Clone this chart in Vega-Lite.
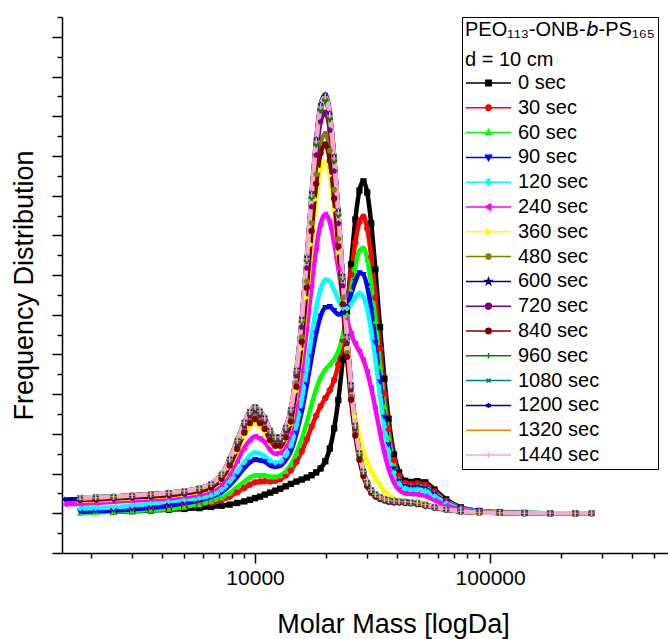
{
  "$schema": "https://vega.github.io/schema/vega-lite/v6.json",
  "width": 606,
  "height": 536,
  "autosize": {"type": "none"},
  "padding": {"left": 62, "top": 17, "right": 0, "bottom": 86},
  "background": "white",
  "config": {
    "font": "Liberation Sans",
    "view": {"stroke": null},
    "axis": {"grid": false, "domainColor": "#000000", "tickColor": "#000000", "labelColor": "#000000", "titleColor": "#000000", "titleFontWeight": "normal", "domainWidth": 1.5, "tickWidth": 1.5}
  },
  "data": {"values": [
{"t":0,"m":2500,"f":0.004},{"t":0,"m":3000,"f":0.005},{"t":0,"m":3600,"f":0.007},{"t":0,"m":4300,"f":0.009},{"t":0,"m":5000,"f":0.011},{"t":0,"m":5800,"f":0.013},{"t":0,"m":6500,"f":0.016},{"t":0,"m":7200,"f":0.019},{"t":0,"m":7800,"f":0.022},{"t":0,"m":8400,"f":0.026},{"t":0,"m":9000,"f":0.03},{"t":0,"m":9500,"f":0.034},{"t":0,"m":10000,"f":0.038},{"t":0,"m":10500,"f":0.042},{"t":0,"m":11000,"f":0.047},{"t":0,"m":11600,"f":0.052},{"t":0,"m":12200,"f":0.057},{"t":0,"m":12800,"f":0.062},{"t":0,"m":13500,"f":0.068},{"t":0,"m":14200,"f":0.074},{"t":0,"m":15000,"f":0.08},{"t":0,"m":15800,"f":0.085},{"t":0,"m":16600,"f":0.09},{"t":0,"m":17400,"f":0.096},{"t":0,"m":18200,"f":0.103},{"t":0,"m":19000,"f":0.113},{"t":0,"m":19900,"f":0.131},{"t":0,"m":20800,"f":0.163},{"t":0,"m":21700,"f":0.214},{"t":0,"m":22600,"f":0.285},{"t":0,"m":23600,"f":0.387},{"t":0,"m":24600,"f":0.508},{"t":0,"m":25600,"f":0.627},{"t":0,"m":26700,"f":0.74},{"t":0,"m":27800,"f":0.813},{"t":0,"m":28900,"f":0.836},{"t":0,"m":30000,"f":0.808},{"t":0,"m":31200,"f":0.73},{"t":0,"m":32500,"f":0.614},{"t":0,"m":34000,"f":0.469},{"t":0,"m":35500,"f":0.339},{"t":0,"m":37000,"f":0.238},{"t":0,"m":39000,"f":0.148},{"t":0,"m":41000,"f":0.103},{"t":0,"m":43500,"f":0.082},{"t":0,"m":46000,"f":0.079},{"t":0,"m":49000,"f":0.081},{"t":0,"m":53000,"f":0.078},{"t":0,"m":58000,"f":0.06},{"t":0,"m":65000,"f":0.035},{"t":0,"m":75000,"f":0.015},{"t":0,"m":90000,"f":0.006},{"t":0,"m":110000,"f":0.003},{"t":0,"m":140000,"f":0.001},{"t":0,"m":180000,"f":0},{"t":0,"m":230000,"f":0},
{"t":30,"m":2500,"f":0.01},{"t":30,"m":3000,"f":0.012},{"t":30,"m":3600,"f":0.014},{"t":30,"m":4300,"f":0.017},{"t":30,"m":5000,"f":0.019},{"t":30,"m":5800,"f":0.022},{"t":30,"m":6500,"f":0.026},{"t":30,"m":7200,"f":0.033},{"t":30,"m":7800,"f":0.042},{"t":30,"m":8400,"f":0.053},{"t":30,"m":9000,"f":0.064},{"t":30,"m":9500,"f":0.072},{"t":30,"m":10000,"f":0.078},{"t":30,"m":10500,"f":0.08},{"t":30,"m":11000,"f":0.081},{"t":30,"m":11600,"f":0.08},{"t":30,"m":12200,"f":0.082},{"t":30,"m":12800,"f":0.086},{"t":30,"m":13500,"f":0.095},{"t":30,"m":14200,"f":0.108},{"t":30,"m":15000,"f":0.13},{"t":30,"m":15800,"f":0.156},{"t":30,"m":16600,"f":0.186},{"t":30,"m":17400,"f":0.218},{"t":30,"m":18200,"f":0.246},{"t":30,"m":19000,"f":0.27},{"t":30,"m":19900,"f":0.29},{"t":30,"m":20800,"f":0.31},{"t":30,"m":21700,"f":0.336},{"t":30,"m":22600,"f":0.375},{"t":30,"m":23600,"f":0.437},{"t":30,"m":24600,"f":0.517},{"t":30,"m":25600,"f":0.601},{"t":30,"m":26700,"f":0.682},{"t":30,"m":27800,"f":0.734},{"t":30,"m":28900,"f":0.747},{"t":30,"m":30000,"f":0.717},{"t":30,"m":31200,"f":0.646},{"t":30,"m":32500,"f":0.543},{"t":30,"m":34000,"f":0.416},{"t":30,"m":35500,"f":0.302},{"t":30,"m":37000,"f":0.213},{"t":30,"m":39000,"f":0.134},{"t":30,"m":41000,"f":0.095},{"t":30,"m":43500,"f":0.076},{"t":30,"m":46000,"f":0.074},{"t":30,"m":49000,"f":0.075},{"t":30,"m":53000,"f":0.072},{"t":30,"m":58000,"f":0.055},{"t":30,"m":65000,"f":0.032},{"t":30,"m":75000,"f":0.014},{"t":30,"m":90000,"f":0.006},{"t":30,"m":110000,"f":0.003},{"t":30,"m":140000,"f":0.001},{"t":30,"m":180000,"f":0},{"t":30,"m":230000,"f":0},{"t":30,"m":270000,"f":0},
{"t":60,"m":1800,"f":0},{"t":60,"m":2100,"f":0.002},{"t":60,"m":2500,"f":0.004},{"t":60,"m":3000,"f":0.006},{"t":60,"m":3600,"f":0.008},{"t":60,"m":4300,"f":0.011},{"t":60,"m":5000,"f":0.016},{"t":60,"m":5800,"f":0.023},{"t":60,"m":6500,"f":0.031},{"t":60,"m":7200,"f":0.039},{"t":60,"m":7800,"f":0.051},{"t":60,"m":8400,"f":0.066},{"t":60,"m":9000,"f":0.08},{"t":60,"m":9500,"f":0.09},{"t":60,"m":10000,"f":0.096},{"t":60,"m":10500,"f":0.096},{"t":60,"m":11000,"f":0.096},{"t":60,"m":11600,"f":0.092},{"t":60,"m":12200,"f":0.092},{"t":60,"m":12800,"f":0.095},{"t":60,"m":13500,"f":0.106},{"t":60,"m":14200,"f":0.122},{"t":60,"m":15000,"f":0.151},{"t":60,"m":15800,"f":0.187},{"t":60,"m":16600,"f":0.229},{"t":60,"m":17400,"f":0.274},{"t":60,"m":18200,"f":0.313},{"t":60,"m":19000,"f":0.342},{"t":60,"m":19900,"f":0.362},{"t":60,"m":20800,"f":0.375},{"t":60,"m":21700,"f":0.388},{"t":60,"m":22600,"f":0.408},{"t":60,"m":23600,"f":0.446},{"t":60,"m":24600,"f":0.501},{"t":60,"m":25600,"f":0.562},{"t":60,"m":26700,"f":0.623},{"t":60,"m":27800,"f":0.662},{"t":60,"m":28900,"f":0.668},{"t":60,"m":30000,"f":0.64},{"t":60,"m":31200,"f":0.575},{"t":60,"m":32500,"f":0.484},{"t":60,"m":34000,"f":0.37},{"t":60,"m":35500,"f":0.269},{"t":60,"m":37000,"f":0.191},{"t":60,"m":39000,"f":0.121},{"t":60,"m":41000,"f":0.087},{"t":60,"m":43500,"f":0.07},{"t":60,"m":46000,"f":0.068},{"t":60,"m":49000,"f":0.069},{"t":60,"m":53000,"f":0.065},{"t":60,"m":58000,"f":0.05},{"t":60,"m":65000,"f":0.029},{"t":60,"m":75000,"f":0.013},{"t":60,"m":90000,"f":0.005},{"t":60,"m":110000,"f":0.002},{"t":60,"m":140000,"f":0.001},{"t":60,"m":180000,"f":0},{"t":60,"m":230000,"f":0},{"t":60,"m":270000,"f":0},
{"t":90,"m":1800,"f":0.003},{"t":90,"m":2100,"f":0.005},{"t":90,"m":2500,"f":0.007},{"t":90,"m":3000,"f":0.01},{"t":90,"m":3600,"f":0.014},{"t":90,"m":4300,"f":0.019},{"t":90,"m":5000,"f":0.025},{"t":90,"m":5800,"f":0.032},{"t":90,"m":6500,"f":0.041},{"t":90,"m":7200,"f":0.053},{"t":90,"m":7800,"f":0.07},{"t":90,"m":8400,"f":0.092},{"t":90,"m":9000,"f":0.114},{"t":90,"m":9500,"f":0.128},{"t":90,"m":10000,"f":0.135},{"t":90,"m":10500,"f":0.133},{"t":90,"m":11000,"f":0.13},{"t":90,"m":11600,"f":0.12},{"t":90,"m":12200,"f":0.117},{"t":90,"m":12800,"f":0.12},{"t":90,"m":13500,"f":0.134},{"t":90,"m":14200,"f":0.156},{"t":90,"m":15000,"f":0.201},{"t":90,"m":15800,"f":0.257},{"t":90,"m":16600,"f":0.323},{"t":90,"m":17400,"f":0.393},{"t":90,"m":18200,"f":0.453},{"t":90,"m":19000,"f":0.496},{"t":90,"m":19900,"f":0.518},{"t":90,"m":20800,"f":0.52},{"t":90,"m":21700,"f":0.51},{"t":90,"m":22600,"f":0.501},{"t":90,"m":23600,"f":0.503},{"t":90,"m":24600,"f":0.521},{"t":90,"m":25600,"f":0.551},{"t":90,"m":26700,"f":0.584},{"t":90,"m":27800,"f":0.605},{"t":90,"m":28900,"f":0.601},{"t":90,"m":30000,"f":0.571},{"t":90,"m":31200,"f":0.511},{"t":90,"m":32500,"f":0.429},{"t":90,"m":34000,"f":0.33},{"t":90,"m":35500,"f":0.241},{"t":90,"m":37000,"f":0.172},{"t":90,"m":39000,"f":0.111},{"t":90,"m":41000,"f":0.081},{"t":90,"m":43500,"f":0.067},{"t":90,"m":46000,"f":0.064},{"t":90,"m":49000,"f":0.065},{"t":90,"m":53000,"f":0.061},{"t":90,"m":58000,"f":0.047},{"t":90,"m":65000,"f":0.027},{"t":90,"m":75000,"f":0.012},{"t":90,"m":90000,"f":0.005},{"t":90,"m":110000,"f":0.002},{"t":90,"m":140000,"f":0.001},{"t":90,"m":180000,"f":0},{"t":90,"m":230000,"f":0},{"t":90,"m":270000,"f":0},
{"t":120,"m":1800,"f":0.012},{"t":120,"m":2100,"f":0.013},{"t":120,"m":2500,"f":0.015},{"t":120,"m":3000,"f":0.019},{"t":120,"m":3600,"f":0.024},{"t":120,"m":4300,"f":0.03},{"t":120,"m":5000,"f":0.034},{"t":120,"m":5800,"f":0.038},{"t":120,"m":6500,"f":0.045},{"t":120,"m":7200,"f":0.059},{"t":120,"m":7800,"f":0.079},{"t":120,"m":8400,"f":0.104},{"t":120,"m":9000,"f":0.129},{"t":120,"m":9500,"f":0.145},{"t":120,"m":10000,"f":0.153},{"t":120,"m":10500,"f":0.15},{"t":120,"m":11000,"f":0.144},{"t":120,"m":11600,"f":0.132},{"t":120,"m":12200,"f":0.127},{"t":120,"m":12800,"f":0.13},{"t":120,"m":13500,"f":0.145},{"t":120,"m":14200,"f":0.171},{"t":120,"m":15000,"f":0.222},{"t":120,"m":15800,"f":0.287},{"t":120,"m":16600,"f":0.365},{"t":120,"m":17400,"f":0.447},{"t":120,"m":18200,"f":0.517},{"t":120,"m":19000,"f":0.565},{"t":120,"m":19900,"f":0.588},{"t":120,"m":20800,"f":0.584},{"t":120,"m":21700,"f":0.562},{"t":120,"m":22600,"f":0.537},{"t":120,"m":23600,"f":0.518},{"t":120,"m":24600,"f":0.516},{"t":120,"m":25600,"f":0.527},{"t":120,"m":26700,"f":0.544},{"t":120,"m":27800,"f":0.554},{"t":120,"m":28900,"f":0.545},{"t":120,"m":30000,"f":0.514},{"t":120,"m":31200,"f":0.459},{"t":120,"m":32500,"f":0.386},{"t":120,"m":34000,"f":0.297},{"t":120,"m":35500,"f":0.218},{"t":120,"m":37000,"f":0.156},{"t":120,"m":39000,"f":0.102},{"t":120,"m":41000,"f":0.075},{"t":120,"m":43500,"f":0.063},{"t":120,"m":46000,"f":0.06},{"t":120,"m":49000,"f":0.06},{"t":120,"m":53000,"f":0.057},{"t":120,"m":58000,"f":0.043},{"t":120,"m":65000,"f":0.026},{"t":120,"m":75000,"f":0.011},{"t":120,"m":90000,"f":0.005},{"t":120,"m":110000,"f":0.002},{"t":120,"m":140000,"f":0.001},{"t":120,"m":180000,"f":0},{"t":120,"m":230000,"f":0},{"t":120,"m":270000,"f":0},
{"t":240,"m":1550,"f":0.023},{"t":240,"m":1800,"f":0.024},{"t":240,"m":2100,"f":0.026},{"t":240,"m":2500,"f":0.029},{"t":240,"m":3000,"f":0.032},{"t":240,"m":3600,"f":0.035},{"t":240,"m":4300,"f":0.038},{"t":240,"m":5000,"f":0.042},{"t":240,"m":5800,"f":0.047},{"t":240,"m":6500,"f":0.056},{"t":240,"m":7200,"f":0.073},{"t":240,"m":7800,"f":0.099},{"t":240,"m":8400,"f":0.132},{"t":240,"m":9000,"f":0.165},{"t":240,"m":9500,"f":0.184},{"t":240,"m":10000,"f":0.194},{"t":240,"m":10500,"f":0.188},{"t":240,"m":11000,"f":0.179},{"t":240,"m":11600,"f":0.159},{"t":240,"m":12200,"f":0.15},{"t":240,"m":12800,"f":0.152},{"t":240,"m":13500,"f":0.17},{"t":240,"m":14200,"f":0.203},{"t":240,"m":15000,"f":0.271},{"t":240,"m":15800,"f":0.359},{"t":240,"m":16600,"f":0.464},{"t":240,"m":17400,"f":0.574},{"t":240,"m":18200,"f":0.667},{"t":240,"m":19000,"f":0.729},{"t":240,"m":19900,"f":0.753},{"t":240,"m":20800,"f":0.733},{"t":240,"m":21700,"f":0.681},{"t":240,"m":22600,"f":0.616},{"t":240,"m":23600,"f":0.545},{"t":240,"m":24600,"f":0.49},{"t":240,"m":25600,"f":0.453},{"t":240,"m":26700,"f":0.427},{"t":240,"m":27800,"f":0.408},{"t":240,"m":28900,"f":0.386},{"t":240,"m":30000,"f":0.356},{"t":240,"m":31200,"f":0.315},{"t":240,"m":32500,"f":0.264},{"t":240,"m":34000,"f":0.204},{"t":240,"m":35500,"f":0.152},{"t":240,"m":37000,"f":0.112},{"t":240,"m":39000,"f":0.077},{"t":240,"m":41000,"f":0.059},{"t":240,"m":43500,"f":0.05},{"t":240,"m":46000,"f":0.049},{"t":240,"m":49000,"f":0.048},{"t":240,"m":53000,"f":0.044},{"t":240,"m":58000,"f":0.033},{"t":240,"m":65000,"f":0.02},{"t":240,"m":75000,"f":0.009},{"t":240,"m":90000,"f":0.004},{"t":240,"m":110000,"f":0.002},{"t":240,"m":140000,"f":0},{"t":240,"m":180000,"f":0},{"t":240,"m":230000,"f":0},{"t":240,"m":270000,"f":0},
{"t":360,"m":1800,"f":0.032},{"t":360,"m":2100,"f":0.033},{"t":360,"m":2500,"f":0.035},{"t":360,"m":3000,"f":0.038},{"t":360,"m":3600,"f":0.041},{"t":360,"m":4300,"f":0.044},{"t":360,"m":5000,"f":0.048},{"t":360,"m":5800,"f":0.054},{"t":360,"m":6500,"f":0.063},{"t":360,"m":7200,"f":0.083},{"t":360,"m":7800,"f":0.115},{"t":360,"m":8400,"f":0.155},{"t":360,"m":9000,"f":0.193},{"t":360,"m":9500,"f":0.216},{"t":360,"m":10000,"f":0.227},{"t":360,"m":10500,"f":0.218},{"t":360,"m":11000,"f":0.204},{"t":360,"m":11600,"f":0.178},{"t":360,"m":12200,"f":0.165},{"t":360,"m":12800,"f":0.165},{"t":360,"m":13500,"f":0.186},{"t":360,"m":14200,"f":0.224},{"t":360,"m":15000,"f":0.307},{"t":360,"m":15800,"f":0.414},{"t":360,"m":16600,"f":0.543},{"t":360,"m":17400,"f":0.677},{"t":360,"m":18200,"f":0.791},{"t":360,"m":19000,"f":0.864},{"t":360,"m":19900,"f":0.886},{"t":360,"m":20800,"f":0.85},{"t":360,"m":21700,"f":0.764},{"t":360,"m":22600,"f":0.656},{"t":360,"m":23600,"f":0.528},{"t":360,"m":24600,"f":0.412},{"t":360,"m":25600,"f":0.32},{"t":360,"m":26700,"f":0.244},{"t":360,"m":27800,"f":0.192},{"t":360,"m":28900,"f":0.155},{"t":360,"m":30000,"f":0.129},{"t":360,"m":31200,"f":0.108},{"t":360,"m":32500,"f":0.089},{"t":360,"m":34000,"f":0.072},{"t":360,"m":35500,"f":0.057},{"t":360,"m":37000,"f":0.047},{"t":360,"m":39000,"f":0.038},{"t":360,"m":41000,"f":0.033},{"t":360,"m":43500,"f":0.031},{"t":360,"m":46000,"f":0.03},{"t":360,"m":49000,"f":0.028},{"t":360,"m":53000,"f":0.025},{"t":360,"m":58000,"f":0.018},{"t":360,"m":65000,"f":0.011},{"t":360,"m":75000,"f":0.005},{"t":360,"m":90000,"f":0.002},{"t":360,"m":110000,"f":0.001},{"t":360,"m":140000,"f":0},{"t":360,"m":180000,"f":0},{"t":360,"m":230000,"f":0},
{"t":480,"m":1800,"f":0.035},{"t":480,"m":2100,"f":0.036},{"t":480,"m":2500,"f":0.038},{"t":480,"m":3000,"f":0.041},{"t":480,"m":3600,"f":0.044},{"t":480,"m":4300,"f":0.047},{"t":480,"m":5000,"f":0.051},{"t":480,"m":5800,"f":0.057},{"t":480,"m":6500,"f":0.067},{"t":480,"m":7200,"f":0.089},{"t":480,"m":7800,"f":0.124},{"t":480,"m":8400,"f":0.167},{"t":480,"m":9000,"f":0.208},{"t":480,"m":9500,"f":0.233},{"t":480,"m":10000,"f":0.244},{"t":480,"m":10500,"f":0.234},{"t":480,"m":11000,"f":0.218},{"t":480,"m":11600,"f":0.189},{"t":480,"m":12200,"f":0.175},{"t":480,"m":12800,"f":0.175},{"t":480,"m":13500,"f":0.197},{"t":480,"m":14200,"f":0.238},{"t":480,"m":15000,"f":0.328},{"t":480,"m":15800,"f":0.444},{"t":480,"m":16600,"f":0.584},{"t":480,"m":17400,"f":0.731},{"t":480,"m":18200,"f":0.854},{"t":480,"m":19000,"f":0.933},{"t":480,"m":19900,"f":0.956},{"t":480,"m":20800,"f":0.913},{"t":480,"m":21700,"f":0.815},{"t":480,"m":22600,"f":0.691},{"t":480,"m":23600,"f":0.542},{"t":480,"m":24600,"f":0.405},{"t":480,"m":25600,"f":0.294},{"t":480,"m":26700,"f":0.201},{"t":480,"m":27800,"f":0.138},{"t":480,"m":28900,"f":0.096},{"t":480,"m":30000,"f":0.07},{"t":480,"m":31200,"f":0.054},{"t":480,"m":32500,"f":0.044},{"t":480,"m":34000,"f":0.037},{"t":480,"m":35500,"f":0.033},{"t":480,"m":37000,"f":0.03},{"t":480,"m":39000,"f":0.028},{"t":480,"m":41000,"f":0.027},{"t":480,"m":43500,"f":0.026},{"t":480,"m":46000,"f":0.025},{"t":480,"m":49000,"f":0.024},{"t":480,"m":53000,"f":0.02},{"t":480,"m":58000,"f":0.015},{"t":480,"m":65000,"f":0.009},{"t":480,"m":75000,"f":0.005},{"t":480,"m":90000,"f":0.002},{"t":480,"m":110000,"f":0.001},{"t":480,"m":140000,"f":0},{"t":480,"m":180000,"f":0},{"t":480,"m":230000,"f":0},{"t":480,"m":270000,"f":0},
{"t":600,"m":1800,"f":0.038},{"t":600,"m":2100,"f":0.04},{"t":600,"m":2500,"f":0.042},{"t":600,"m":3000,"f":0.045},{"t":600,"m":3600,"f":0.048},{"t":600,"m":4300,"f":0.052},{"t":600,"m":5000,"f":0.056},{"t":600,"m":5800,"f":0.063},{"t":600,"m":6500,"f":0.074},{"t":600,"m":7200,"f":0.098},{"t":600,"m":7800,"f":0.135},{"t":600,"m":8400,"f":0.182},{"t":600,"m":9000,"f":0.228},{"t":600,"m":9500,"f":0.255},{"t":600,"m":10000,"f":0.267},{"t":600,"m":10500,"f":0.256},{"t":600,"m":11000,"f":0.239},{"t":600,"m":11600,"f":0.207},{"t":600,"m":12200,"f":0.191},{"t":600,"m":12800,"f":0.191},{"t":600,"m":13500,"f":0.215},{"t":600,"m":14200,"f":0.26},{"t":600,"m":15000,"f":0.358},{"t":600,"m":15800,"f":0.486},{"t":600,"m":16600,"f":0.639},{"t":600,"m":17400,"f":0.799},{"t":600,"m":18200,"f":0.933},{"t":600,"m":19000,"f":1.02},{"t":600,"m":19900,"f":1.045},{"t":600,"m":20800,"f":0.998},{"t":600,"m":21700,"f":0.892},{"t":600,"m":22600,"f":0.755},{"t":600,"m":23600,"f":0.593},{"t":600,"m":24600,"f":0.443},{"t":600,"m":25600,"f":0.321},{"t":600,"m":26700,"f":0.22},{"t":600,"m":27800,"f":0.151},{"t":600,"m":28900,"f":0.105},{"t":600,"m":30000,"f":0.077},{"t":600,"m":31200,"f":0.059},{"t":600,"m":32500,"f":0.048},{"t":600,"m":34000,"f":0.041},{"t":600,"m":35500,"f":0.036},{"t":600,"m":37000,"f":0.033},{"t":600,"m":39000,"f":0.031},{"t":600,"m":41000,"f":0.03},{"t":600,"m":43500,"f":0.029},{"t":600,"m":46000,"f":0.028},{"t":600,"m":49000,"f":0.026},{"t":600,"m":53000,"f":0.022},{"t":600,"m":58000,"f":0.016},{"t":600,"m":65000,"f":0.01},{"t":600,"m":75000,"f":0.005},{"t":600,"m":90000,"f":0.002},{"t":600,"m":110000,"f":0.001},{"t":600,"m":140000,"f":0},{"t":600,"m":180000,"f":0},{"t":600,"m":230000,"f":0},{"t":600,"m":270000,"f":0},
{"t":720,"m":1800,"f":0.037},{"t":720,"m":2100,"f":0.038},{"t":720,"m":2500,"f":0.04},{"t":720,"m":3000,"f":0.043},{"t":720,"m":3600,"f":0.046},{"t":720,"m":4300,"f":0.05},{"t":720,"m":5000,"f":0.054},{"t":720,"m":5800,"f":0.061},{"t":720,"m":6500,"f":0.071},{"t":720,"m":7200,"f":0.094},{"t":720,"m":7800,"f":0.131},{"t":720,"m":8400,"f":0.176},{"t":720,"m":9000,"f":0.22},{"t":720,"m":9500,"f":0.246},{"t":720,"m":10000,"f":0.258},{"t":720,"m":10500,"f":0.247},{"t":720,"m":11000,"f":0.231},{"t":720,"m":11600,"f":0.2},{"t":720,"m":12200,"f":0.185},{"t":720,"m":12800,"f":0.185},{"t":720,"m":13500,"f":0.208},{"t":720,"m":14200,"f":0.251},{"t":720,"m":15000,"f":0.346},{"t":720,"m":15800,"f":0.469},{"t":720,"m":16600,"f":0.618},{"t":720,"m":17400,"f":0.772},{"t":720,"m":18200,"f":0.902},{"t":720,"m":19000,"f":0.986},{"t":720,"m":19900,"f":1.01},{"t":720,"m":20800,"f":0.965},{"t":720,"m":21700,"f":0.862},{"t":720,"m":22600,"f":0.73},{"t":720,"m":23600,"f":0.573},{"t":720,"m":24600,"f":0.428},{"t":720,"m":25600,"f":0.311},{"t":720,"m":26700,"f":0.213},{"t":720,"m":27800,"f":0.146},{"t":720,"m":28900,"f":0.102},{"t":720,"m":30000,"f":0.074},{"t":720,"m":31200,"f":0.057},{"t":720,"m":32500,"f":0.046},{"t":720,"m":34000,"f":0.039},{"t":720,"m":35500,"f":0.035},{"t":720,"m":37000,"f":0.032},{"t":720,"m":39000,"f":0.03},{"t":720,"m":41000,"f":0.029},{"t":720,"m":43500,"f":0.028},{"t":720,"m":46000,"f":0.027},{"t":720,"m":49000,"f":0.025},{"t":720,"m":53000,"f":0.021},{"t":720,"m":58000,"f":0.015},{"t":720,"m":65000,"f":0.01},{"t":720,"m":75000,"f":0.005},{"t":720,"m":90000,"f":0.002},{"t":720,"m":110000,"f":0.001},{"t":720,"m":140000,"f":0},{"t":720,"m":180000,"f":0},{"t":720,"m":230000,"f":0},{"t":720,"m":270000,"f":0},
{"t":840,"m":1800,"f":0.034},{"t":840,"m":2100,"f":0.035},{"t":840,"m":2500,"f":0.037},{"t":840,"m":3000,"f":0.04},{"t":840,"m":3600,"f":0.042},{"t":840,"m":4300,"f":0.046},{"t":840,"m":5000,"f":0.05},{"t":840,"m":5800,"f":0.056},{"t":840,"m":6500,"f":0.065},{"t":840,"m":7200,"f":0.087},{"t":840,"m":7800,"f":0.12},{"t":840,"m":8400,"f":0.162},{"t":840,"m":9000,"f":0.203},{"t":840,"m":9500,"f":0.227},{"t":840,"m":10000,"f":0.237},{"t":840,"m":10500,"f":0.227},{"t":840,"m":11000,"f":0.212},{"t":840,"m":11600,"f":0.184},{"t":840,"m":12200,"f":0.17},{"t":840,"m":12800,"f":0.17},{"t":840,"m":13500,"f":0.191},{"t":840,"m":14200,"f":0.231},{"t":840,"m":15000,"f":0.319},{"t":840,"m":15800,"f":0.432},{"t":840,"m":16600,"f":0.568},{"t":840,"m":17400,"f":0.711},{"t":840,"m":18200,"f":0.83},{"t":840,"m":19000,"f":0.907},{"t":840,"m":19900,"f":0.929},{"t":840,"m":20800,"f":0.888},{"t":840,"m":21700,"f":0.793},{"t":840,"m":22600,"f":0.672},{"t":840,"m":23600,"f":0.527},{"t":840,"m":24600,"f":0.394},{"t":840,"m":25600,"f":0.286},{"t":840,"m":26700,"f":0.196},{"t":840,"m":27800,"f":0.135},{"t":840,"m":28900,"f":0.094},{"t":840,"m":30000,"f":0.068},{"t":840,"m":31200,"f":0.052},{"t":840,"m":32500,"f":0.042},{"t":840,"m":34000,"f":0.036},{"t":840,"m":35500,"f":0.032},{"t":840,"m":37000,"f":0.029},{"t":840,"m":39000,"f":0.027},{"t":840,"m":41000,"f":0.027},{"t":840,"m":43500,"f":0.026},{"t":840,"m":46000,"f":0.025},{"t":840,"m":49000,"f":0.023},{"t":840,"m":53000,"f":0.019},{"t":840,"m":58000,"f":0.014},{"t":840,"m":65000,"f":0.009},{"t":840,"m":75000,"f":0.004},{"t":840,"m":90000,"f":0.002},{"t":840,"m":110000,"f":0.001},{"t":840,"m":140000,"f":0},{"t":840,"m":180000,"f":0},{"t":840,"m":230000,"f":0},{"t":840,"m":270000,"f":0},
{"t":960,"m":1800,"f":0.038},{"t":960,"m":2100,"f":0.04},{"t":960,"m":2500,"f":0.042},{"t":960,"m":3000,"f":0.045},{"t":960,"m":3600,"f":0.048},{"t":960,"m":4300,"f":0.051},{"t":960,"m":5000,"f":0.055},{"t":960,"m":5800,"f":0.062},{"t":960,"m":6500,"f":0.073},{"t":960,"m":7200,"f":0.097},{"t":960,"m":7800,"f":0.135},{"t":960,"m":8400,"f":0.181},{"t":960,"m":9000,"f":0.227},{"t":960,"m":9500,"f":0.253},{"t":960,"m":10000,"f":0.265},{"t":960,"m":10500,"f":0.254},{"t":960,"m":11000,"f":0.238},{"t":960,"m":11600,"f":0.206},{"t":960,"m":12200,"f":0.19},{"t":960,"m":12800,"f":0.19},{"t":960,"m":13500,"f":0.214},{"t":960,"m":14200,"f":0.258},{"t":960,"m":15000,"f":0.356},{"t":960,"m":15800,"f":0.483},{"t":960,"m":16600,"f":0.636},{"t":960,"m":17400,"f":0.795},{"t":960,"m":18200,"f":0.929},{"t":960,"m":19000,"f":1.015},{"t":960,"m":19900,"f":1.04},{"t":960,"m":20800,"f":0.993},{"t":960,"m":21700,"f":0.887},{"t":960,"m":22600,"f":0.751},{"t":960,"m":23600,"f":0.59},{"t":960,"m":24600,"f":0.441},{"t":960,"m":25600,"f":0.32},{"t":960,"m":26700,"f":0.219},{"t":960,"m":27800,"f":0.15},{"t":960,"m":28900,"f":0.105},{"t":960,"m":30000,"f":0.076},{"t":960,"m":31200,"f":0.058},{"t":960,"m":32500,"f":0.048},{"t":960,"m":34000,"f":0.041},{"t":960,"m":35500,"f":0.036},{"t":960,"m":37000,"f":0.033},{"t":960,"m":39000,"f":0.031},{"t":960,"m":41000,"f":0.03},{"t":960,"m":43500,"f":0.029},{"t":960,"m":46000,"f":0.028},{"t":960,"m":49000,"f":0.026},{"t":960,"m":53000,"f":0.022},{"t":960,"m":58000,"f":0.016},{"t":960,"m":65000,"f":0.01},{"t":960,"m":75000,"f":0.005},{"t":960,"m":90000,"f":0.002},{"t":960,"m":110000,"f":0.001},{"t":960,"m":140000,"f":0},{"t":960,"m":180000,"f":0},{"t":960,"m":230000,"f":0},{"t":960,"m":270000,"f":0},
{"t":1080,"m":1800,"f":0.039},{"t":1080,"m":2100,"f":0.041},{"t":1080,"m":2500,"f":0.042},{"t":1080,"m":3000,"f":0.045},{"t":1080,"m":3600,"f":0.048},{"t":1080,"m":4300,"f":0.052},{"t":1080,"m":5000,"f":0.056},{"t":1080,"m":5800,"f":0.063},{"t":1080,"m":6500,"f":0.074},{"t":1080,"m":7200,"f":0.098},{"t":1080,"m":7800,"f":0.136},{"t":1080,"m":8400,"f":0.183},{"t":1080,"m":9000,"f":0.229},{"t":1080,"m":9500,"f":0.256},{"t":1080,"m":10000,"f":0.268},{"t":1080,"m":10500,"f":0.257},{"t":1080,"m":11000,"f":0.24},{"t":1080,"m":11600,"f":0.208},{"t":1080,"m":12200,"f":0.192},{"t":1080,"m":12800,"f":0.192},{"t":1080,"m":13500,"f":0.216},{"t":1080,"m":14200,"f":0.261},{"t":1080,"m":15000,"f":0.36},{"t":1080,"m":15800,"f":0.488},{"t":1080,"m":16600,"f":0.642},{"t":1080,"m":17400,"f":0.803},{"t":1080,"m":18200,"f":0.938},{"t":1080,"m":19000,"f":1.025},{"t":1080,"m":19900,"f":1.05},{"t":1080,"m":20800,"f":1.003},{"t":1080,"m":21700,"f":0.896},{"t":1080,"m":22600,"f":0.759},{"t":1080,"m":23600,"f":0.596},{"t":1080,"m":24600,"f":0.445},{"t":1080,"m":25600,"f":0.323},{"t":1080,"m":26700,"f":0.221},{"t":1080,"m":27800,"f":0.152},{"t":1080,"m":28900,"f":0.106},{"t":1080,"m":30000,"f":0.077},{"t":1080,"m":31200,"f":0.059},{"t":1080,"m":32500,"f":0.048},{"t":1080,"m":34000,"f":0.041},{"t":1080,"m":35500,"f":0.036},{"t":1080,"m":37000,"f":0.033},{"t":1080,"m":39000,"f":0.031},{"t":1080,"m":41000,"f":0.03},{"t":1080,"m":43500,"f":0.029},{"t":1080,"m":46000,"f":0.028},{"t":1080,"m":49000,"f":0.026},{"t":1080,"m":53000,"f":0.022},{"t":1080,"m":58000,"f":0.016},{"t":1080,"m":65000,"f":0.01},{"t":1080,"m":75000,"f":0.005},{"t":1080,"m":90000,"f":0.002},{"t":1080,"m":110000,"f":0.001},{"t":1080,"m":140000,"f":0},{"t":1080,"m":180000,"f":0},{"t":1080,"m":230000,"f":0},{"t":1080,"m":270000,"f":0},
{"t":1200,"m":1550,"f":0.035},{"t":1200,"m":1800,"f":0.036},{"t":1200,"m":2100,"f":0.039},{"t":1200,"m":2500,"f":0.042},{"t":1200,"m":3000,"f":0.045},{"t":1200,"m":3600,"f":0.048},{"t":1200,"m":4300,"f":0.052},{"t":1200,"m":5000,"f":0.056},{"t":1200,"m":5800,"f":0.063},{"t":1200,"m":6500,"f":0.074},{"t":1200,"m":7200,"f":0.098},{"t":1200,"m":7800,"f":0.137},{"t":1200,"m":8400,"f":0.184},{"t":1200,"m":9000,"f":0.23},{"t":1200,"m":9500,"f":0.257},{"t":1200,"m":10000,"f":0.269},{"t":1200,"m":10500,"f":0.258},{"t":1200,"m":11000,"f":0.241},{"t":1200,"m":11600,"f":0.209},{"t":1200,"m":12200,"f":0.193},{"t":1200,"m":12800,"f":0.193},{"t":1200,"m":13500,"f":0.217},{"t":1200,"m":14200,"f":0.262},{"t":1200,"m":15000,"f":0.362},{"t":1200,"m":15800,"f":0.49},{"t":1200,"m":16600,"f":0.645},{"t":1200,"m":17400,"f":0.807},{"t":1200,"m":18200,"f":0.943},{"t":1200,"m":19000,"f":1.03},{"t":1200,"m":19900,"f":1.055},{"t":1200,"m":20800,"f":1.008},{"t":1200,"m":21700,"f":0.9},{"t":1200,"m":22600,"f":0.763},{"t":1200,"m":23600,"f":0.599},{"t":1200,"m":24600,"f":0.447},{"t":1200,"m":25600,"f":0.325},{"t":1200,"m":26700,"f":0.222},{"t":1200,"m":27800,"f":0.153},{"t":1200,"m":28900,"f":0.107},{"t":1200,"m":30000,"f":0.077},{"t":1200,"m":31200,"f":0.059},{"t":1200,"m":32500,"f":0.048},{"t":1200,"m":34000,"f":0.041},{"t":1200,"m":35500,"f":0.036},{"t":1200,"m":37000,"f":0.033},{"t":1200,"m":39000,"f":0.031},{"t":1200,"m":41000,"f":0.03},{"t":1200,"m":43500,"f":0.029},{"t":1200,"m":46000,"f":0.028},{"t":1200,"m":49000,"f":0.026},{"t":1200,"m":53000,"f":0.022},{"t":1200,"m":58000,"f":0.016},{"t":1200,"m":65000,"f":0.01},{"t":1200,"m":75000,"f":0.005},{"t":1200,"m":90000,"f":0.002},{"t":1200,"m":110000,"f":0.001},{"t":1200,"m":140000,"f":0},{"t":1200,"m":180000,"f":0},{"t":1200,"m":230000,"f":0},{"t":1200,"m":270000,"f":0},
{"t":1320,"m":1800,"f":0.036},{"t":1320,"m":2100,"f":0.039},{"t":1320,"m":2500,"f":0.042},{"t":1320,"m":3000,"f":0.045},{"t":1320,"m":3600,"f":0.048},{"t":1320,"m":4300,"f":0.052},{"t":1320,"m":5000,"f":0.056},{"t":1320,"m":5800,"f":0.063},{"t":1320,"m":6500,"f":0.074},{"t":1320,"m":7200,"f":0.098},{"t":1320,"m":7800,"f":0.136},{"t":1320,"m":8400,"f":0.183},{"t":1320,"m":9000,"f":0.229},{"t":1320,"m":9500,"f":0.256},{"t":1320,"m":10000,"f":0.268},{"t":1320,"m":10500,"f":0.257},{"t":1320,"m":11000,"f":0.24},{"t":1320,"m":11600,"f":0.208},{"t":1320,"m":12200,"f":0.192},{"t":1320,"m":12800,"f":0.192},{"t":1320,"m":13500,"f":0.216},{"t":1320,"m":14200,"f":0.261},{"t":1320,"m":15000,"f":0.36},{"t":1320,"m":15800,"f":0.487},{"t":1320,"m":16600,"f":0.641},{"t":1320,"m":17400,"f":0.801},{"t":1320,"m":18200,"f":0.936},{"t":1320,"m":19000,"f":1.022},{"t":1320,"m":19900,"f":1.047},{"t":1320,"m":20800,"f":1.0},{"t":1320,"m":21700,"f":0.894},{"t":1320,"m":22600,"f":0.757},{"t":1320,"m":23600,"f":0.595},{"t":1320,"m":24600,"f":0.444},{"t":1320,"m":25600,"f":0.322},{"t":1320,"m":26700,"f":0.221},{"t":1320,"m":27800,"f":0.152},{"t":1320,"m":28900,"f":0.106},{"t":1320,"m":30000,"f":0.077},{"t":1320,"m":31200,"f":0.059},{"t":1320,"m":32500,"f":0.048},{"t":1320,"m":34000,"f":0.041},{"t":1320,"m":35500,"f":0.036},{"t":1320,"m":37000,"f":0.033},{"t":1320,"m":39000,"f":0.031},{"t":1320,"m":41000,"f":0.03},{"t":1320,"m":43500,"f":0.029},{"t":1320,"m":46000,"f":0.028},{"t":1320,"m":49000,"f":0.026},{"t":1320,"m":53000,"f":0.022},{"t":1320,"m":58000,"f":0.016},{"t":1320,"m":65000,"f":0.01},{"t":1320,"m":75000,"f":0.005},{"t":1320,"m":90000,"f":0.002},{"t":1320,"m":110000,"f":0.001},{"t":1320,"m":140000,"f":0},{"t":1320,"m":180000,"f":0},{"t":1320,"m":230000,"f":0},{"t":1320,"m":270000,"f":0},
{"t":1440,"m":1800,"f":0.04},{"t":1440,"m":2100,"f":0.041},{"t":1440,"m":2500,"f":0.042},{"t":1440,"m":3000,"f":0.045},{"t":1440,"m":3600,"f":0.048},{"t":1440,"m":4300,"f":0.052},{"t":1440,"m":5000,"f":0.056},{"t":1440,"m":5800,"f":0.063},{"t":1440,"m":6500,"f":0.074},{"t":1440,"m":7200,"f":0.098},{"t":1440,"m":7800,"f":0.136},{"t":1440,"m":8400,"f":0.183},{"t":1440,"m":9000,"f":0.229},{"t":1440,"m":9500,"f":0.256},{"t":1440,"m":10000,"f":0.268},{"t":1440,"m":10500,"f":0.257},{"t":1440,"m":11000,"f":0.24},{"t":1440,"m":11600,"f":0.208},{"t":1440,"m":12200,"f":0.192},{"t":1440,"m":12800,"f":0.192},{"t":1440,"m":13500,"f":0.216},{"t":1440,"m":14200,"f":0.261},{"t":1440,"m":15000,"f":0.36},{"t":1440,"m":15800,"f":0.488},{"t":1440,"m":16600,"f":0.642},{"t":1440,"m":17400,"f":0.803},{"t":1440,"m":18200,"f":0.938},{"t":1440,"m":19000,"f":1.025},{"t":1440,"m":19900,"f":1.05},{"t":1440,"m":20800,"f":1.003},{"t":1440,"m":21700,"f":0.896},{"t":1440,"m":22600,"f":0.759},{"t":1440,"m":23600,"f":0.596},{"t":1440,"m":24600,"f":0.445},{"t":1440,"m":25600,"f":0.323},{"t":1440,"m":26700,"f":0.221},{"t":1440,"m":27800,"f":0.152},{"t":1440,"m":28900,"f":0.106},{"t":1440,"m":30000,"f":0.077},{"t":1440,"m":31200,"f":0.059},{"t":1440,"m":32500,"f":0.048},{"t":1440,"m":34000,"f":0.041},{"t":1440,"m":35500,"f":0.036},{"t":1440,"m":37000,"f":0.033},{"t":1440,"m":39000,"f":0.031},{"t":1440,"m":41000,"f":0.03},{"t":1440,"m":43500,"f":0.029},{"t":1440,"m":46000,"f":0.028},{"t":1440,"m":49000,"f":0.026},{"t":1440,"m":53000,"f":0.022},{"t":1440,"m":58000,"f":0.016},{"t":1440,"m":65000,"f":0.01},{"t":1440,"m":75000,"f":0.005},{"t":1440,"m":90000,"f":0.002},{"t":1440,"m":110000,"f":0.001},{"t":1440,"m":140000,"f":0},{"t":1440,"m":180000,"f":0},{"t":1440,"m":230000,"f":0},{"t":1440,"m":270000,"f":0}
  ]},
  "encoding": {
    "x": {
      "field": "m", "type": "quantitative",
      "scale": {"type": "log", "domain": [1509, 571000], "nice": false},
      "axis": {
        "values": [2000,3000,4000,5000,6000,7000,8000,9000,10000,20000,30000,40000,50000,60000,70000,80000,90000,100000,200000,300000,400000,500000],
        "format": "d",
        "labelExpr": "datum.value == 10000 || datum.value == 100000 ? datum.label : ''",
        "tickSize": {"condition": {"test": "datum.value == 10000 || datum.value == 100000", "value": 10}, "value": 5},
        "labelFontSize": 21, "labelPadding": 4, "labelFlush": false, "labelOverlap": false, "labelBound": false,
        "title": "Molar Mass [logDa]", "titleFontSize": 27, "titleX": 331, "titleY": 79, "titleAlign": "center", "titleBaseline": "alphabetic"
      }
    },
    "y": {
      "field": "f", "type": "quantitative",
      "scale": {"domain": [-0.1, 1.25], "nice": false, "zero": false},
      "axis": {
        "values": [-0.1,-0.05,0,0.05,0.1,0.15,0.2,0.25,0.3,0.35,0.4,0.45,0.5,0.55,0.6,0.65,0.7,0.75,0.8,0.85,0.9,0.95,1,1.05,1.1,1.15,1.2,1.25],
        "labels": false,
        "tickSize": {"condition": {"test": "round(datum.value * 20) % 2 == 0", "value": 10}, "value": 5},
        "title": "Frequency Distribution", "titleFontSize": 27, "titleAngle": -90, "titleX": -30, "titleY": 268, "titleAlign": "center", "titleBaseline": "alphabetic"
      }
    },
    "color": {
      "field": "t", "type": "nominal",
      "scale": {
        "domain": [0,30,60,90,120,240,360,480,600,720,840,960,1080,1200,1320,1440],
        "range": ["#000000","#FF0000","#00FF00","#0000FF","#00FFFF","#FF00FF","#FFFF00","#808000","#000080","#800080","#800000","#008000","#008080","#0000A0","#FF8000","#F7A8CF"]
      },
      "legend": {
        "orient": "none", "legendX": 400, "legendY": 0,
        "title": ["PEO\u2081\u2081\u2083-ONB-\uD835\uDE23-PS\u2081\u2086\u2085", "d = 10 cm"],
        "titleFontSize": 20, "titleFontWeight": "normal", "titleColor": "#000000", "titleLineHeight": 30, "titlePadding": 3, "titleLimit": 400,
        "labelFontSize": 20, "labelColor": "#000000", "labelLimit": 300, "labelExpr": "datum.label + ' sec'",
        "symbolSize": 324, "labelOffset": 33, "rowPadding": 4.8,
        "padding": 3, "strokeColor": "#000000", "fillColor": "#FFFFFF",
        "encode": {
          "symbols": {
            "update": {
              "shape": {"signal": "['M-1,0H4M1.2,-0.3H1.8V0.3H1.2Z','M-1,0H4M1.2,0A0.3,0.3,0,1,1,1.8,0A0.3,0.3,0,1,1,1.2,0Z','M-1,0H4M1.5,-0.35L1.83,0.25H1.17Z','M-1,0H4M1.5,0.35L1.83,-0.25H1.17Z','M-1,0H4M1.5,-0.36L1.82,0L1.5,0.36L1.18,0Z','M-1,0H4M1.15,0L1.75,-0.33V0.33Z','M-1,0H4M1.85,0L1.25,-0.33V0.33Z','M-1,0H4M1.2,0L1.35,-0.28H1.65L1.8,0L1.65,0.28H1.35Z','M-1,0H4M1.5,-0.36L1.58,-0.11L1.84,-0.11L1.63,0.05L1.71,0.3L1.5,0.14L1.29,0.3L1.37,0.05L1.16,-0.11L1.42,-0.11Z','M-1,0H4M1.17,0A0.33,0.33,0,1,1,1.83,0A0.33,0.33,0,1,1,1.17,0Z','M-1,0H4M1.2,0A0.3,0.3,0,1,1,1.8,0A0.3,0.3,0,1,1,1.2,0Z','M-1,0H4M1.5,-0.3V0.3','M-1,0H4M1.28,-0.22L1.72,0.22M1.28,0.22L1.72,-0.22','M-1,0H4M1.5,-0.3V0.3M1.24,-0.15L1.76,0.15M1.24,0.15L1.76,-0.15','M-1,0H4','M-1,0H4M1.5,-0.3V0.3'][indexof([0,30,60,90,120,240,360,480,600,720,840,960,1080,1200,1320,1440], datum.value)]"},
              "stroke": {"signal": "scale('color', datum.value)"},
              "fill": {"signal": "scale('color', datum.value)"},
              "strokeWidth": {"value": 1.5},
              "opacity": {"value": 1}
            }
          }
        }
      }
    }
  },
  "layer": [
    {"mark": {"type": "line", "strokeWidth": 4.5, "interpolate": "monotone"}},
    {
      "mark": {"type": "point", "filled": true, "size": 40, "opacity": 1},
      "encoding": {
        "shape": {
          "condition": [
            {"test": "datum.t == 0", "value": "square"},
            {"test": "datum.t == 30", "value": "circle"},
            {"test": "datum.t == 60", "value": "triangle-up"},
            {"test": "datum.t == 90", "value": "triangle-down"},
            {"test": "datum.t == 120", "value": "diamond"},
            {"test": "datum.t == 240", "value": "triangle-left"},
            {"test": "datum.t == 360", "value": "triangle-right"},
            {"test": "datum.t == 480", "value": "M-1,0L-0.5,-0.87H0.5L1,0L0.5,0.87H-0.5Z"},
            {"test": "datum.t == 600", "value": "M0,-1L0.22,-0.31L0.95,-0.31L0.36,0.12L0.59,0.81L0,0.38L-0.59,0.81L-0.36,0.12L-0.95,-0.31L-0.22,-0.31Z"},
            {"test": "datum.t == 720", "value": "M0,-1L0.95,-0.31L0.59,0.81H-0.59L-0.95,-0.31Z"},
            {"test": "datum.t == 960", "value": "cross"},
            {"test": "datum.t == 1080", "value": "M-1,-0.6L-0.6,-1L0,-0.4L0.6,-1L1,-0.6L0.4,0L1,0.6L0.6,1L0,0.4L-0.6,1L-1,0.6L-0.4,0Z"},
            {"test": "datum.t == 1200", "value": "M0,-1L0.25,-0.43L0.87,-0.5L0.5,0L0.87,0.5L0.25,0.43L0,1L-0.25,0.43L-0.87,0.5L-0.5,0L-0.87,-0.5L-0.25,-0.43Z"},
            {"test": "datum.t == 1320", "value": "M-1,-0.25H1V0.25H-1Z"},
            {"test": "datum.t == 1440", "value": "M-0.25,-1H0.25V1H-0.25Z"}
          ],
          "value": "circle"
        }
      }
    }
  ]
}
